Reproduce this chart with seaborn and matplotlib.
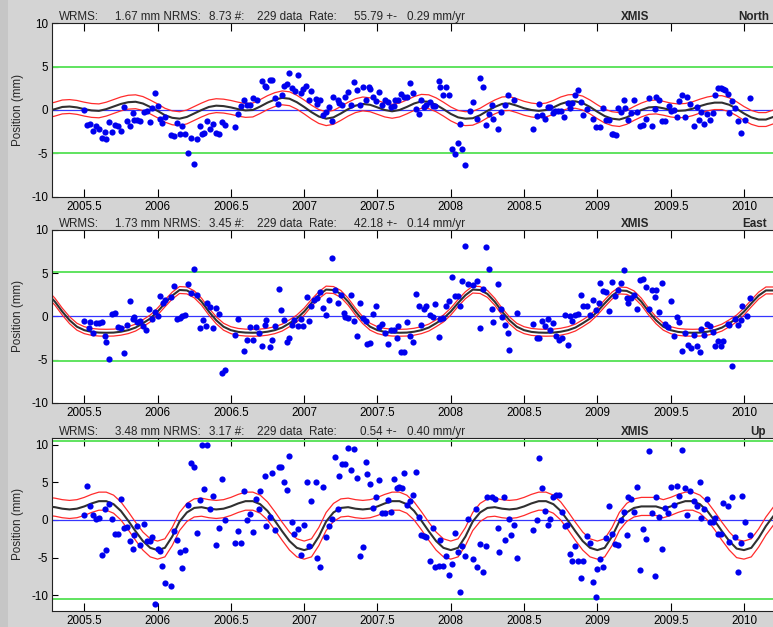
import numpy as np
import pandas as pd
import matplotlib
matplotlib.use("Agg")
import matplotlib.pyplot as plt
from matplotlib.patches import Rectangle
import seaborn as sns

# ---------------- data ----------------
north_t = [2005.50, 2005.52, 2005.54, 2005.56, 2005.58, 2005.60, 2005.62, 2005.64, 2005.65, 2005.67,
           2005.69, 2005.71, 2005.73, 2005.75, 2005.77, 2005.79, 2005.81, 2005.83, 2005.84, 2005.86,
           2005.88, 2005.91, 2005.93, 2005.95, 2005.96, 2005.98, 2006.00, 2006.02, 2006.03, 2006.05,
           2006.09, 2006.11, 2006.13, 2006.15, 2006.17, 2006.19, 2006.21, 2006.23, 2006.25, 2006.27,
           2006.29, 2006.30, 2006.32, 2006.34, 2006.36, 2006.38, 2006.40, 2006.42, 2006.44, 2006.46,
           2006.53, 2006.55, 2006.57, 2006.59, 2006.61, 2006.63, 2006.65, 2006.68, 2006.71, 2006.73,
           2006.74, 2006.77, 2006.78, 2006.80, 2006.82, 2006.85, 2006.86, 2006.88, 2006.90, 2006.92,
           2006.94, 2006.96, 2006.98, 2006.99, 2007.01, 2007.03, 2007.05, 2007.08, 2007.09, 2007.11,
           2007.13, 2007.15, 2007.17, 2007.19, 2007.20, 2007.23, 2007.24, 2007.26, 2007.28, 2007.30,
           2007.32, 2007.34, 2007.36, 2007.38, 2007.40, 2007.42, 2007.44, 2007.45, 2007.47, 2007.49,
           2007.51, 2007.53, 2007.55, 2007.57, 2007.59, 2007.61, 2007.62, 2007.64, 2007.66, 2007.68,
           2007.70, 2007.72, 2007.74, 2007.76, 2007.78, 2007.80, 2007.82, 2007.83, 2007.86, 2007.88,
           2007.89, 2007.92, 2007.93, 2007.95, 2007.97, 2007.99, 2008.01, 2008.03, 2008.05, 2008.06,
           2008.08, 2008.10, 2008.13, 2008.15, 2008.18, 2008.20, 2008.22, 2008.24, 2008.26, 2008.28,
           2008.29, 2008.32, 2008.34, 2008.37, 2008.39, 2008.43, 2008.56, 2008.59, 2008.60, 2008.62,
           2008.64, 2008.66, 2008.68, 2008.70, 2008.71, 2008.73, 2008.75, 2008.77, 2008.80, 2008.81,
           2008.83, 2008.85, 2008.87, 2008.89, 2008.90, 2008.93, 2008.97, 2008.99, 2009.02, 2009.04,
           2009.06, 2009.08, 2009.10, 2009.11, 2009.13, 2009.14, 2009.16, 2009.18, 2009.19, 2009.21,
           2009.23, 2009.25, 2009.27, 2009.29, 2009.31, 2009.33, 2009.35, 2009.37, 2009.39, 2009.40,
           2009.42, 2009.44, 2009.46, 2009.49, 2009.50, 2009.52, 2009.54, 2009.56, 2009.58, 2009.60,
           2009.61, 2009.63, 2009.66, 2009.68, 2009.69, 2009.71, 2009.73, 2009.75, 2009.77, 2009.79,
           2009.80, 2009.82, 2009.84, 2009.86, 2009.87, 2009.89, 2009.90, 2009.92, 2009.94, 2009.96,
           2009.98, 2010.01, 2010.04]
north_v = [0.0, -1.7, -1.6, -2.4, -1.8, -2.2, -3.2, -2.5, -3.3, -1.4,
           -2.5, -1.7, -1.9, -2.4, 0.3, -1.3, -1.9, -0.3, -1.1, -1.2,
           -1.3, -0.2, -0.1, -1.4, 0.2, 2.0, 0.5, -1.0, -1.5, -0.8,
           -2.9, -3.0, -1.5, -2.8, -1.9, -2.8, -5.0, -3.2, -6.2, -3.4,
           -1.8, -2.8, -2.7, -1.3, -2.2, -1.6, -2.7, -2.8, -1.4, -1.7,
           -2.0, -0.5, 0.5, 1.2, 0.6, 0.6, 1.4, 1.1, 3.3, 2.8,
           2.6, 3.5, 3.5, 1.4, 0.7, 1.7, 2.8, 3.0, 4.3, 2.5,
           2.2, 4.0, 2.0, 2.4, 2.8, 1.2, 2.2, 1.3, 0.7, 1.2,
           -0.6, -0.2, 0.4, -1.3, 1.5, 1.1, 0.8, 0.6, 1.5, 2.1,
           0.6, 3.2, 2.3, 0.6, 2.7, 1.1, 2.7, 2.4, 1.5, 1.0,
           2.1, 0.6, 1.1, 0.9, 0.4, 0.5, 1.1, 1.1, 1.8, 1.5,
           1.5, 3.1, 2.0, 0.1, -0.5, 1.1, 0.3, 0.6, 0.9, 0.5,
           0.5, 3.3, 2.7, 1.7, 2.7, 1.7, -4.5, -5.1, -3.8, -1.6,
           -4.5, -6.3, -0.1, 0.9, -1.0, 3.7, 2.7, -1.7, -0.5, 0.6,
           -1.0, -2.2, -0.2, 0.6, 1.7, 1.2, -2.2, -0.7, 0.7, -0.6,
           -1.0, 0.4, 0.4, -0.3, -0.1, -0.1, -0.1, -0.8, 0.8, 0.2,
           0.8, 1.7, 2.3, 0.9, -0.6, 0.1, -1.0, -2.0, -2.0, 0.2,
           -1.1, -1.1, -2.8, -2.8, -2.9, 0.2, -0.2, 1.2, 0.2, -1.2,
           -0.3, 1.1, -0.2, -1.9, -1.7, -1.0, 1.4, -1.8, 0.1, 1.5,
           1.1, -1.3, -1.3, 0.5, -0.1, 0.0, -0.8, 1.0, 1.7, -0.8,
           1.5, 0.7, -1.9, 0.4, -1.2, -0.2, -1.6, -0.5, -1.1, -0.3,
           1.7, 2.5, 2.5, 2.4, 2.3, 1.8, -0.3, 1.0, 0.2, -1.3,
           -2.7, -1.1, 1.4]

east_t = [2005.50, 2005.53, 2005.54, 2005.56, 2005.58, 2005.60, 2005.62, 2005.64, 2005.65, 2005.67,
          2005.69, 2005.71, 2005.73, 2005.75, 2005.77, 2005.79, 2005.81, 2005.83, 2005.84, 2005.86,
          2005.88, 2005.90, 2005.92, 2005.94, 2005.96, 2005.98, 2006.00, 2006.02, 2006.04, 2006.05,
          2006.09, 2006.11, 2006.13, 2006.15, 2006.17, 2006.19, 2006.21, 2006.23, 2006.25, 2006.27,
          2006.29, 2006.31, 2006.33, 2006.34, 2006.36, 2006.38, 2006.40, 2006.42, 2006.44, 2006.46,
          2006.53, 2006.55, 2006.59, 2006.61, 2006.63, 2006.65, 2006.67, 2006.69, 2006.71, 2006.73,
          2006.74, 2006.77, 2006.78, 2006.80, 2006.83, 2006.84, 2006.86, 2006.88, 2006.90, 2006.92,
          2006.93, 2006.96, 2006.98, 2006.99, 2007.02, 2007.03, 2007.05, 2007.07, 2007.09, 2007.11,
          2007.13, 2007.15, 2007.17, 2007.19, 2007.21, 2007.23, 2007.25, 2007.27, 2007.28, 2007.30,
          2007.32, 2007.34, 2007.36, 2007.38, 2007.40, 2007.42, 2007.43, 2007.45, 2007.47, 2007.49,
          2007.51, 2007.53, 2007.55, 2007.57, 2007.59, 2007.61, 2007.63, 2007.64, 2007.66, 2007.68,
          2007.70, 2007.72, 2007.74, 2007.76, 2007.78, 2007.80, 2007.82, 2007.83, 2007.86, 2007.88,
          2007.89, 2007.92, 2007.93, 2007.95, 2007.97, 2007.99, 2008.01, 2008.03, 2008.05, 2008.06,
          2008.08, 2008.10, 2008.12, 2008.15, 2008.18, 2008.20, 2008.22, 2008.24, 2008.26, 2008.28,
          2008.29, 2008.32, 2008.34, 2008.35, 2008.37, 2008.39, 2008.40, 2008.45, 2008.56, 2008.59,
          2008.60, 2008.62, 2008.64, 2008.66, 2008.68, 2008.70, 2008.72, 2008.74, 2008.76, 2008.78,
          2008.80, 2008.81, 2008.83, 2008.85, 2008.87, 2008.89, 2008.90, 2008.93, 2008.95, 2008.97,
          2008.99, 2009.01, 2009.02, 2009.04, 2009.06, 2009.08, 2009.10, 2009.12, 2009.14, 2009.16,
          2009.18, 2009.20, 2009.21, 2009.23, 2009.25, 2009.27, 2009.29, 2009.31, 2009.33, 2009.35,
          2009.37, 2009.39, 2009.40, 2009.42, 2009.44, 2009.46, 2009.48, 2009.50, 2009.52, 2009.54,
          2009.56, 2009.58, 2009.60, 2009.62, 2009.64, 2009.66, 2009.68, 2009.70, 2009.71, 2009.73,
          2009.75, 2009.77, 2009.79, 2009.80, 2009.82, 2009.84, 2009.86, 2009.89, 2009.90, 2009.92,
          2009.94, 2009.96, 2009.98, 2009.99, 2010.02, 2010.04]
east_v = [-0.5, -1.3, -0.65, -1.9, -0.8, -0.8, -0.65, -2.3, -3.0, -4.9,
          0.3, 0.4, -1.2, -1.4, -4.3, -1.0, 1.8, -0.3, -0.1, -0.65,
          -0.55, -1.1, -1.6, 0.9, -0.3, 0.5, 0.0, 2.4, 1.5, 1.9,
          2.2, 3.5, -0.3, -0.15, 0.0, 0.1, 3.8, 2.7, 5.5, 2.5,
          -1.35, -0.4, -1.15, 1.5, 1.1, -1.4, 1.0, 0.3, -6.6, -6.2,
          -2.2, -0.25, -4.0, -2.7, -1.25, -2.7, -1.25, -1.9, -3.4, -1.0,
          -0.4, -3.5, -2.7, -1.15, 3.2, 0.7, -0.4, -3.0, -2.5, -1.0,
          -0.4, -1.15, -0.3, -1.1, 2.2, -0.5, 1.2, 1.9, 2.1, 2.8,
          1.0, 0.1, 1.85, 6.8, 3.0, 1.5, 2.5, 0.4, -0.1, -0.2,
          2.5, -0.5, -2.3, 1.5, -0.2, -0.5, -3.15, -3.1, 0.3, 1.2,
          -1.2, -0.85, -1.9, -3.15, -1.6, -1.6, -2.5, -1.15, -4.15, -4.15,
          -0.7, -2.3, -3.0, 2.6, 1.15, -1.05, 0.8, 1.15, 0.15, -0.1,
          1.4, -2.4, -0.3, -0.2, 1.15, 1.8, 4.6, 2.4, 2.4, 1.15,
          4.1, 8.1, 3.8, 3.65, 4.1, -1.4, 3.2, 8.0, 5.5, 0.8,
          -0.6, 3.8, 0.8, -0.1, -1.0, -1.9, -3.9, 0.4, -0.85, -2.5,
          -2.5, -0.5, -1.1, -0.3, -1.6, -0.8, -2.3, -2.7, -2.5, 0.1,
          -3.35, 0.0, -0.5, 0.2, 0.3, 2.5, 1.2, 1.2, 0.2, 1.9,
          0.7, 1.6, 3.85, 2.9, 2.8, 0.65, 4.0, 2.4, 3.0, 3.85,
          5.4, 2.1, 1.5, 2.1, 2.5, 0.8, 4.2, 4.3, 3.35, 0.85,
          3.0, 2.2, 3.0, 0.45, 3.85, -0.9, -1.2, 1.8, -2.3, -0.1,
          -0.7, -4.0, -1.9, -3.3, -3.65, -2.2, -3.4, -4.15, -1.45, -2.2,
          -0.9, -1.15, -1.85, -3.4, -2.8, -3.4, -2.9, -0.85, -1.05, -5.7,
          -0.3, -1.0, -0.4, 1.2, 0.0, 2.1]

up_t = [2005.50, 2005.52, 2005.54, 2005.56, 2005.58, 2005.60, 2005.62, 2005.64, 2005.65, 2005.67,
        2005.69, 2005.71, 2005.73, 2005.75, 2005.77, 2005.79, 2005.81, 2005.83, 2005.84, 2005.86,
        2005.88, 2005.91, 2005.93, 2005.95, 2005.96, 2005.98, 2006.00, 2006.02, 2006.03, 2006.05,
        2006.09, 2006.11, 2006.13, 2006.15, 2006.17, 2006.19, 2006.21, 2006.23, 2006.25, 2006.27,
        2006.29, 2006.30, 2006.32, 2006.34, 2006.36, 2006.38, 2006.40, 2006.42, 2006.44, 2006.46,
        2006.53, 2006.55, 2006.57, 2006.59, 2006.61, 2006.63, 2006.65, 2006.67, 2006.69, 2006.70,
        2006.73, 2006.74, 2006.77, 2006.78, 2006.80, 2006.83, 2006.84, 2006.86, 2006.88, 2006.90,
        2006.92, 2006.93, 2006.96, 2006.98, 2007.00, 2007.02, 2007.03, 2007.05, 2007.08, 2007.09,
        2007.11, 2007.13, 2007.15, 2007.17, 2007.19, 2007.21, 2007.23, 2007.24, 2007.26, 2007.28,
        2007.30, 2007.32, 2007.34, 2007.36, 2007.38, 2007.40, 2007.42, 2007.43, 2007.45, 2007.47,
        2007.49, 2007.51, 2007.53, 2007.55, 2007.57, 2007.59, 2007.61, 2007.63, 2007.65, 2007.67,
        2007.68, 2007.70, 2007.72, 2007.74, 2007.76, 2007.78, 2007.80, 2007.82, 2007.83, 2007.86,
        2007.88, 2007.89, 2007.92, 2007.93, 2007.95, 2007.97, 2007.99, 2008.01, 2008.03, 2008.05,
        2008.06, 2008.08, 2008.10, 2008.12, 2008.15, 2008.17, 2008.18, 2008.20, 2008.22, 2008.24,
        2008.25, 2008.28, 2008.30, 2008.32, 2008.33, 2008.36, 2008.37, 2008.40, 2008.41, 2008.43,
        2008.45, 2008.56, 2008.59, 2008.60, 2008.62, 2008.64, 2008.66, 2008.68, 2008.70, 2008.72,
        2008.74, 2008.76, 2008.78, 2008.79, 2008.81, 2008.83, 2008.85, 2008.87, 2008.89, 2008.90,
        2008.93, 2008.95, 2008.97, 2008.99, 2009.00, 2009.02, 2009.04, 2009.06, 2009.08, 2009.10,
        2009.12, 2009.14, 2009.16, 2009.18, 2009.20, 2009.21, 2009.23, 2009.25, 2009.27, 2009.29,
        2009.31, 2009.33, 2009.35, 2009.37, 2009.39, 2009.40, 2009.42, 2009.44, 2009.46, 2009.48,
        2009.50, 2009.52, 2009.54, 2009.56, 2009.58, 2009.60, 2009.61, 2009.63, 2009.66, 2009.68,
        2009.70, 2009.71, 2009.73, 2009.75, 2009.77, 2009.79, 2009.80, 2009.82, 2009.84, 2009.86,
        2009.89, 2009.90, 2009.92, 2009.94, 2009.96, 2009.98, 2009.99, 2010.01, 2010.04]
up_v = [0.65, 4.5, 1.8, 0.65, 0.15, 0.2, -4.7, 1.4, -4.0, 2.1,
        0.15, -1.85, -1.85, 2.8, -1.0, -0.9, -2.8, -3.9, -2.0, -0.75,
        -3.3, -0.5, -2.75, -2.75, -2.3, -11.1, -3.9, -4.1, -6.1, -8.4,
        -8.8, -1.4, -2.65, -4.2, -6.4, -4.0, 2.0, 7.6, 7.1, -1.7,
        2.6, 10.0, 4.1, 9.9, 1.4, 3.2, -3.3, -1.0, 5.4, 0.0,
        -3.0, -1.4, -3.0, 3.8, 0.05, 0.8, -1.6, 2.8, 1.4, 3.8,
        5.9, -0.8, 0.45, 6.3, -1.3, 7.1, 7.1, 5.0, 4.0, 8.5,
        -0.25, -1.9, -1.2, -4.65, -0.6, 5.0, -3.4, 2.5, 5.0, -5.0,
        -6.3, 4.4, -2.2, -0.8, 0.1, 8.4, 1.4, 5.9, 7.5, 7.5,
        9.6, 6.6, 9.4, 5.6, -4.8, -3.6, 7.7, 6.1, 4.8, 1.55,
        3.1, 5.3, 0.9, 0.9, 2.65, 1.05, 5.5, 4.3, 4.4, 4.2,
        6.2, 2.0, 2.55, 3.3, 6.4, 0.45, -2.0, -2.1, -2.3, -5.5,
        -1.0, -6.2, -6.1, -2.6, -6.1, -4.8, -7.3, -5.9, -1.7, -4.2,
        -9.5, -3.45, -4.8, 0.1, -5.2, 1.4, -6.3, -3.2, -6.9, -3.45,
        3.0, 3.0, 2.8, -1.0, -4.2, 3.0, -2.6, 0.1, -2.0, -0.6,
        -5.1, -1.3, 0.0, 8.2, 4.3, 1.25, -0.6, 0.15, 3.0, 3.3,
        3.3, 1.0, -0.75, -0.6, -4.55, -5.5, -3.45, -5.4, -7.65, -5.4,
        -2.1, -3.0, -8.3, -10.2, -6.5, -5.2, -6.3, -2.4, 1.9, -1.85,
        -3.2, -3.3, 0.0, 1.0, -2.0, 3.1, 2.75, 1.1, 4.4, -6.6,
        -1.2, -2.5, 9.2, 0.9, -7.4, 3.1, 0.45, -3.85, 1.55, 0.9,
        4.4, 2.0, 4.5, 3.2, 9.3, 4.2, 0.6, 3.8, 2.5, 1.8,
        5.0, 0.2, 1.4, 2.8, -0.3, -0.3, 0.3, -1.8, -1.8, 2.2,
        1.9, -2.9, 3.0, -2.3, -6.9, -3.0, 3.2, -0.3, -2.0]

# model curves sampled every 0.05 yr from 2005.25 to 2010.25
model_t = np.round(np.arange(2005.25, 2010.2501, 0.05), 2)
north_model = [-0.1, 0.1, 0.35, 0.4, 0.3, 0.1, -0.05, -0.1, 0.1, 0.4, 0.7, 0.9, 0.95, 0.75, 0.35,
               -0.1, -0.6, -0.9, -1.0, -0.8, -0.4, 0.0, 0.35, 0.5, 0.45, 0.3, 0.1, -0.05, 0.0, 0.4,
               0.85, 1.2, 1.4, 1.3, 0.9,
               0.35, -0.25, -0.75, -1.0, -0.85, -0.4, 0.1, 0.5, 0.7, 0.6, 0.3, 0.0, -0.15, 0.0, 0.35,
               0.75, 1.0, 0.95, 0.6, 0.1,
               -0.45, -0.85, -1.0, -0.95, -0.6, -0.1, 0.35, 0.7, 0.75, 0.5, 0.2, 0.0, -0.1, 0.0, 0.3,
               0.7, 0.95, 1.0, 0.8, 0.35,
               -0.2, -0.7, -1.0, -1.1, -0.85, -0.4, 0.0, 0.3, 0.35, 0.2, 0.0, -0.1, -0.05, 0.15, 0.45,
               0.7, 0.85, 0.85, 0.6, 0.15,
               -0.4, -0.85, -1.1, -1.1, -0.8, -0.4]
east_model = [2.6, 1.7, 0.55, -0.45, -1.2, -1.6, -1.8, -1.88, -1.9, -1.88, -1.78, -1.6, -1.3, -0.8, -0.25,
              0.55, 1.5, 2.4, 3.05, 3.0, 2.55, 1.7, 0.55, -0.45, -1.2, -1.6, -1.8, -1.88, -1.9, -1.88,
              -1.78, -1.6, -1.3, -0.8, -0.25,
              0.55, 1.55, 2.45, 3.1, 3.05, 2.6, 1.7, 0.55, -0.45, -1.2, -1.6, -1.8, -1.88, -1.9, -1.88,
              -1.78, -1.6, -1.3, -0.8, -0.25,
              0.55, 1.55, 2.45, 3.1, 3.05, 2.6, 1.7, 0.55, -0.45, -1.2, -1.6, -1.8, -1.88, -1.9, -1.88,
              -1.78, -1.6, -1.3, -0.8, -0.25,
              0.55, 1.5, 2.4, 3.0, 2.95, 2.55, 1.7, 0.55, -0.45, -1.2, -1.6, -1.8, -1.88, -1.9, -1.88,
              -1.78, -1.6, -1.3, -0.8, -0.25,
              0.55, 1.5, 2.4, 3.0, 3.0, 2.55]
up_model = [1.8, 1.7, 1.5, 1.4, 1.5, 1.8, 2.2, 2.5, 2.5, 2.1, 1.2, -0.1, -1.5, -2.8, -3.7,
            -4.0, -3.7, -2.2, -0.2, 1.0, 1.6, 1.7, 1.5, 1.4, 1.5, 1.8, 2.2, 2.5, 2.5, 2.1,
            1.2, -0.1, -1.5, -2.8, -3.7,
            -4.0, -3.7, -2.2, -0.2, 1.0, 1.6, 1.7, 1.5, 1.4, 1.5, 1.8, 2.2, 2.5, 2.5, 2.1,
            1.2, -0.1, -1.5, -2.8, -3.7,
            -4.0, -3.7, -2.2, -0.2, 1.0, 1.6, 1.7, 1.5, 1.4, 1.5, 1.8, 2.2, 2.5, 2.5, 2.1,
            1.2, -0.1, -1.5, -2.8, -3.7,
            -4.0, -3.7, -2.2, -0.2, 1.0, 1.6, 1.8, 1.8, 1.8, 1.5, 1.8, 2.2, 2.5, 2.5, 2.1,
            1.2, -0.1, -1.5, -2.8, -3.8,
            -4.0, -3.7, -2.4, -0.8, 0.5, 1.3]

band_width = {"North": 0.8, "East": 0.4, "Up": 1.2}
wrms = {"North": 1.67, "East": 1.73, "Up": 3.48}
nrms = {"North": 8.73, "East": 3.45, "Up": 3.17}
rate = {"North": 55.79, "East": 42.18, "Up": 0.54}
rate_err = {"North": 0.29, "East": 0.14, "Up": 0.40}
n_data = 229
site = "XMIS"

xticks = [2005.5, 2006, 2006.5, 2007, 2007.5, 2008, 2008.5, 2009, 2009.5, 2010]
xtick_labels = ["2005.5", "2006", "2006.5", "2007", "2007.5", "2008", "2008.5", "2009", "2009.5", "2010"]
yticks = [-10, -5, 0, 5, 10]
ytick_labels = ["-10", "-5", "0", "5", "10"]

# ---------------- style ----------------
sns.set_style("white")
plt.rcParams["font.family"] = ["Liberation Sans", "DejaVu Sans"]

W, H = 773, 627
fig = plt.figure(figsize=(W / 100, H / 100), dpi=100, facecolor="#d4d4d4")
fig.patches.append(Rectangle((0, 0), 8 / W, 1, transform=fig.transFigure,
                             facecolor="#c6c6c6", edgecolor="none", zorder=0))

FS = 8.4
left_px, right_px = 52.3, 800.0
px_per_year = 146.6
x0 = 2005.282
x1 = x0 + (right_px - left_px) / px_per_year

panels = [
    ("North", north_t, north_v, north_model, 23.3, 196.7, (-10, 10)),
    ("East", east_t, east_v, east_model, 230.0, 402.7, (-10, 10)),
    ("Up", up_t, up_v, up_model, 438.3, 610.7, (-12.05, 10.85)),
]
comp_x = {"North": 738, "East": 742, "Up": 750}

for comp, t, v, model, top, bot, ylim in panels:
    ax = fig.add_axes([left_px / W, 1 - bot / H, (right_px - left_px) / W, (bot - top) / H])
    ax.set_facecolor("white")
    lvl = 3 * wrms[comp]
    ax.axhline(lvl, color="#5fe35f", lw=1.4, zorder=1)
    ax.axhline(-lvl, color="#5fe35f", lw=1.4, zorder=1)
    ax.axhline(0, color="#3535ff", lw=0.9, zorder=1)

    mdf = pd.DataFrame({"t": model_t, "m": model})
    mdf["hi"] = mdf["m"] + band_width[comp]
    mdf["lo"] = mdf["m"] - band_width[comp]
    sns.lineplot(data=mdf, x="t", y="hi", ax=ax, color="#ff2b2b", lw=0.9, errorbar=None, zorder=2)
    sns.lineplot(data=mdf, x="t", y="lo", ax=ax, color="#ff2b2b", lw=0.9, errorbar=None, zorder=2)
    sns.lineplot(data=mdf, x="t", y="m", ax=ax, color="#303030", lw=1.5, errorbar=None, zorder=3)

    pdf = pd.DataFrame({"t": t, "v": v})
    sns.scatterplot(data=pdf, x="t", y="v", ax=ax, color="#0000ee", s=20, linewidth=0,
                    legend=False, zorder=4)

    ax.set_xlim(x0, x1)
    ax.set_ylim(*ylim)
    ax.set_xticks(xticks)
    ax.set_xticklabels(xtick_labels)
    ax.set_yticks(yticks)
    ax.set_yticklabels(ytick_labels)
    ax.set_xlabel("")
    ax.set_ylabel("")
    ax.tick_params(axis="x", direction="in", top=True, bottom=True, length=6, width=0.8,
                   labelsize=FS, pad=3, colors="black")
    ax.tick_params(axis="y", direction="in", left=True, right=False, length=4, width=0.8,
                   labelsize=FS, pad=3, colors="black")
    for s in ax.spines.values():
        s.set_color("#222222")
        s.set_linewidth(0.8)
    ax.spines["right"].set_visible(False)

    # y label
    fig.text(18 / W, 1 - (top + bot) / 2 / H, "Position (mm)", rotation=90,
             ha="center", va="center", fontsize=FS)

    # header line
    yb = 1 - (top - 3.3) / H
    parts = [
        (59, "WRMS:"),
        (115, f"{wrms[comp]:.2f} mm NRMS:"),
        (209, f"{nrms[comp]:.2f} #:"),
        (257, f"{n_data} data"),
        (309, "Rate:"),
        (None, f"{rate[comp]:.2f} +-"),
        (407, f"{rate_err[comp]:.2f} mm/yr"),
    ]
    for xp, txt in parts:
        if xp is None:
            fig.text(397 / W, yb, txt, ha="right", va="baseline", fontsize=FS)
        else:
            fig.text(xp / W, yb, txt, ha="left", va="baseline", fontsize=FS)
    fig.text(635 / W, yb, site, ha="center", va="baseline", fontsize=FS, fontweight="bold")
    fig.text(comp_x[comp] / W, yb, comp, ha="left", va="baseline", fontsize=FS, fontweight="bold")

fig.savefig("out.png", dpi=100, facecolor=fig.get_facecolor())
